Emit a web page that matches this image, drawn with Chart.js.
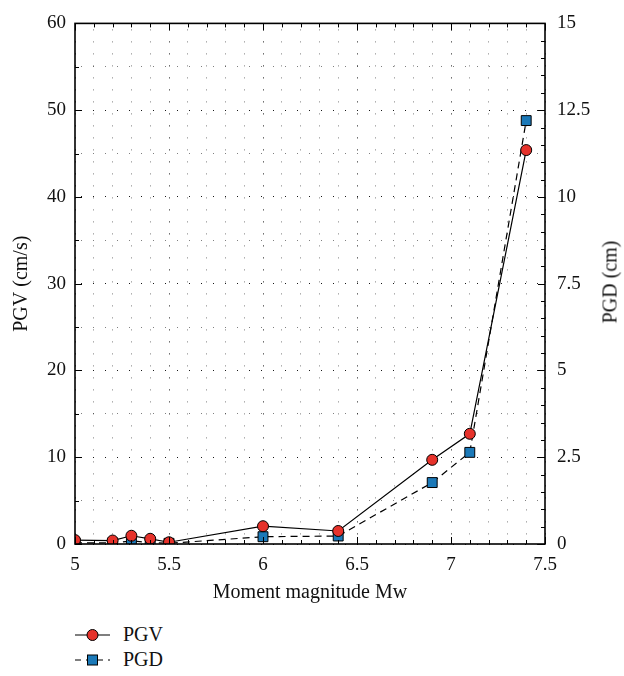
<!DOCTYPE html>
<html>
<head>
<meta charset="utf-8">
<script src="https://cdn.jsdelivr.net/npm/chart.js@4.4.0/dist/chart.umd.min.js"></script>
<style>
  body { margin: 0; background: #fff; }
  #wrap { position: relative; width: 624px; height: 610px; }
  #legend { position: absolute; left: 75px; top: 622px; font-family: "Liberation Serif", serif; font-size: 20px; color: #111; }
  .row { display: flex; align-items: center; height: 25px; }
  .row svg { margin-right: 12px; }
  #y2title { position: absolute; left: 610px; top: 282px; transform: translate(-50%, -50%) rotate(-90deg);
             white-space: nowrap; font-family: "Liberation Serif", serif; font-size: 20px; color: #111; }
</style>
</head>
<body>
<div id="wrap">
  <canvas id="chart" width="624" height="610"></canvas>
  <div id="y2title">PGD (cm)</div>
</div>
<div id="legend">
  <div class="row">
    <svg width="36" height="14"><line x1="0" y1="7" x2="35" y2="7" stroke="#000" stroke-width="1.2"/><circle cx="17.5" cy="7" r="5.5" fill="#e6322b" stroke="#000" stroke-width="1"/></svg>
    <span>PGV</span>
  </div>
  <div class="row">
    <svg width="36" height="14"><line x1="0" y1="7" x2="35" y2="7" stroke="#000" stroke-width="1.2" stroke-dasharray="6,5"/><rect x="12.5" y="2" width="10" height="10" fill="#1b79b8" stroke="#000" stroke-width="1"/></svg>
    <span>PGD</span>
  </div>
</div>
<script>
// Magnitudes (Mw) des événements
const magnitudes = [5.0, 5.2, 5.3, 5.4, 5.5, 6.0, 6.4, 6.9, 7.1, 7.4];
// PGV en cm/s (axe gauche)
const pgvValues = [0.45, 0.4, 0.95, 0.6, 0.2, 2.05, 1.5, 9.7, 12.7, 45.4];
// PGD en cm (axe droit)
const pgdValues = [0.03, 0.03, 0.09, 0.04, 0.02, 0.21, 0.23, 1.77, 2.64, 12.2];

const xLabelStep = 0.5;
const yLabelStep = 10;
const y2LabelStep = 2.5;

const serif = '"Liberation Serif", "DejaVu Serif", serif';

function isMultiple(v, step) {
  const r = v / step;
  return Math.abs(r - Math.round(r)) < 1e-6;
}
function fmt(v) {
  return String(parseFloat(v.toFixed(2)));
}
// pointillés plus sombres sur les graduations principales
const gridColor = c => (c.tick && c.tick.label) ? 'rgba(0,0,0,0.9)' : 'rgba(0,0,0,0.5)';

// Cadre + graduations tournées vers l'intérieur
const frameTicks = {
  id: 'frameTicks',
  afterDraw(chart) {
    const { ctx, chartArea: a, scales } = chart;
    ctx.save();
    ctx.strokeStyle = '#000';
    ctx.lineWidth = 1;
    const seg = (x1, y1, x2, y2) => {
      ctx.beginPath(); ctx.moveTo(x1, y1); ctx.lineTo(x2, y2); ctx.stroke();
    };
    scales.x.ticks.forEach(t => {
      const px = Math.round(scales.x.getPixelForValue(t.value)) + 0.5;
      const len = t.label ? 7 : 4;
      seg(px, a.bottom, px, a.bottom - len);
      seg(px, a.top, px, a.top + len);
    });
    scales.y.ticks.forEach(t => {
      const py = Math.round(scales.y.getPixelForValue(t.value)) + 0.5;
      const len = t.label ? 7 : 4;
      seg(a.left, py, a.left + len, py);
    });
    scales.y2.ticks.forEach(t => {
      const py = Math.round(scales.y2.getPixelForValue(t.value)) + 0.5;
      const len = t.label ? 7 : 4;
      seg(a.right, py, a.right - len, py);
    });
    ctx.lineWidth = 1.6;
    ctx.strokeRect(a.left, a.top, a.right - a.left, a.bottom - a.top);
    ctx.restore();
  }
};

const ctx = document.getElementById('chart').getContext('2d');
new Chart(ctx, {
  type: 'line',
  data: {
    datasets: [
      {
        label: 'PGV',
        data: magnitudes.map((m, i) => ({ x: m, y: pgvValues[i] })),
        yAxisID: 'y',
        borderColor: '#000',
        borderWidth: 1.2,
        pointStyle: 'circle',
        pointRadius: 5.5,
        pointBackgroundColor: '#e6322b',
        pointBorderColor: '#000',
        pointBorderWidth: 1,
        tension: 0
      },
      {
        label: 'PGD',
        data: magnitudes.map((m, i) => ({ x: m, y: pgdValues[i] })),
        yAxisID: 'y2',
        borderColor: '#000',
        borderWidth: 1.2,
        borderDash: [7, 5],
        pointStyle: 'rect',
        pointRadius: 7,
        pointBackgroundColor: '#1b79b8',
        pointBorderColor: '#000',
        pointBorderWidth: 1,
        tension: 0
      }
    ]
  },
  options: {
    responsive: false,
    animation: false,
    maintainAspectRatio: false,
    layout: { padding: { top: 19, left: 0, right: 0, bottom: 0 } },
    plugins: { legend: { display: false }, tooltip: { enabled: false } },
    scales: {
      x: {
        type: 'linear',
        min: 5,
        max: 7.5,
        afterFit: s => { s.height = 66; },
        border: { display: false, dash: [1, 11], dashOffset: 6 },
        grid: { color: gridColor, lineWidth: 1, drawTicks: false },
        ticks: {
          stepSize: 0.1,
          autoSkip: false,
          maxRotation: 0,
          padding: 10,
          color: '#111',
          font: { family: serif, size: 19 },
          callback: v => isMultiple(v, xLabelStep) ? fmt(v) : ''
        },
        title: { display: true, text: 'Moment magnitude Mw', color: '#111', font: { family: serif, size: 20 }, padding: { top: 0, bottom: 5 } }
      },
      y: {
        position: 'left',
        min: 0,
        max: 60,
        afterFit: s => { s.width = 75; },
        border: { display: false, dash: [1, 11], dashOffset: 6 },
        grid: { color: gridColor, lineWidth: 1, drawTicks: false },
        ticks: {
          stepSize: 5,
          autoSkip: false,
          padding: 9,
          color: '#111',
          font: { family: serif, size: 19 },
          callback: v => isMultiple(v, yLabelStep) ? fmt(v) : ''
        },
        title: { display: true, text: 'PGV (cm/s)', color: '#111', font: { family: serif, size: 20 }, padding: { top: 10, bottom: 0 } }
      },
      y2: {
        position: 'right',
        min: 0,
        max: 15,
        afterFit: s => { s.width = 79; },
        border: { display: false },
        grid: { display: false, drawTicks: false },
        ticks: {
          stepSize: 0.5,
          autoSkip: false,
          padding: 12,
          color: '#111',
          font: { family: serif, size: 19 },
          callback: v => isMultiple(v, y2LabelStep) ? fmt(v) : ''
        },
        title: { display: false }
      }
    }
  },
  plugins: [frameTicks]
});
</script>
</body>
</html>
